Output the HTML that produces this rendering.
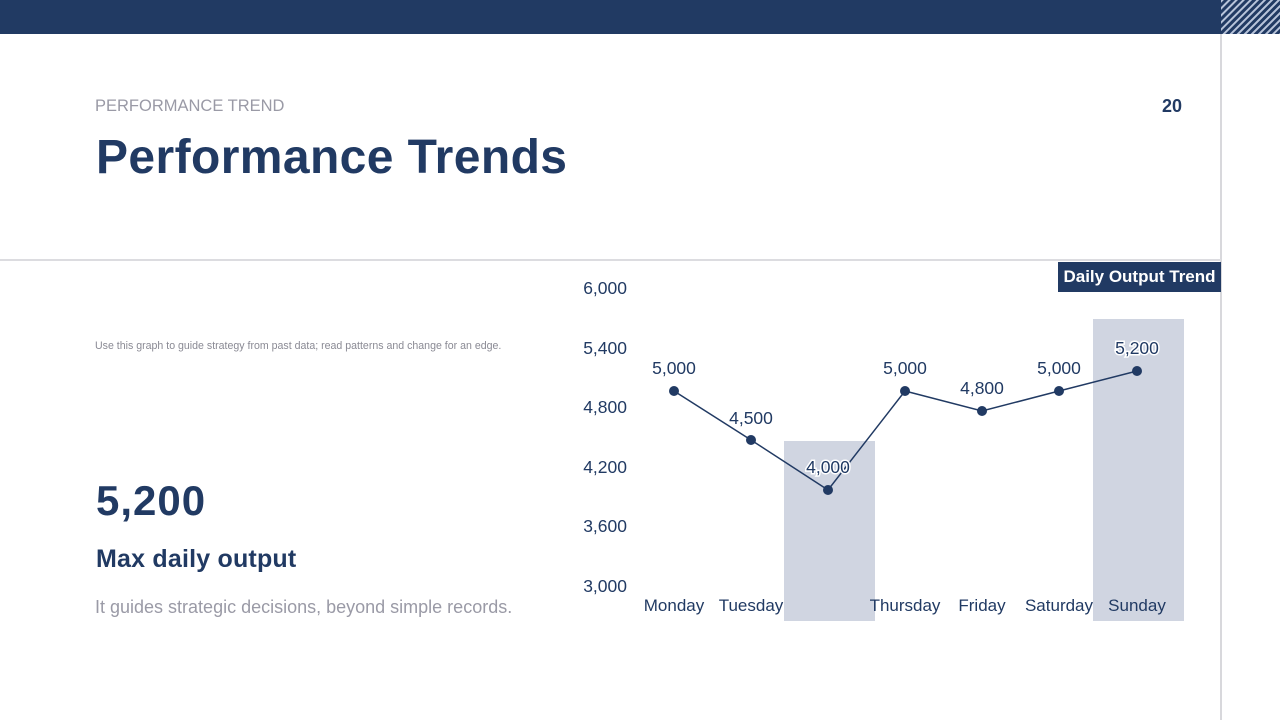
<!DOCTYPE html>
<html><head><style>
body{margin:0;width:1280px;height:720px;background:#fff;font-family:"Liberation Sans",sans-serif;position:relative;overflow:hidden}
.a{position:absolute;white-space:nowrap}
</style></head><body>
<div class="a" style="left:0;top:0;width:1221px;height:34px;background:#213a63"></div>
<svg class="a" style="left:1221px;top:0" width="59" height="34"><defs><pattern id="h" width="5" height="5" patternUnits="userSpaceOnUse" patternTransform="rotate(45)"><rect width="5" height="5" fill="#213a63"/><rect width="2" height="5" fill="#b8c4da"/></pattern></defs><rect width="59" height="34" fill="url(#h)"/></svg>
<div class="a" style="left:1220px;top:34px;width:2px;height:686px;background:#d8d8dc"></div>
<div class="a" style="left:0;top:259px;width:1221px;height:2px;background:#dcdce0"></div>
<div class="a" style="left:95px;top:97px;font-size:16.5px;color:#9a9aa6">PERFORMANCE TREND</div>
<div class="a" style="left:1162px;top:96px;font-size:18px;font-weight:bold;color:#213a63">20</div>
<div class="a" style="left:96px;top:130px;font-size:48px;font-weight:bold;color:#213a63;letter-spacing:0.4px">Performance Trends</div>
<div class="a" style="left:95px;top:340px;font-size:10.6px;color:#8a8a94">Use this graph to guide strategy from past data; read patterns and change for an edge.</div>
<div class="a" style="left:96px;top:477px;font-size:42px;font-weight:bold;color:#213a63;letter-spacing:1px">5,200</div>
<div class="a" style="left:96px;top:545px;font-size:25px;font-weight:bold;color:#213a63;letter-spacing:0.2px">Max daily output</div>
<div class="a" style="left:95px;top:597px;font-size:18px;color:#9a9aa6">It guides strategic decisions, beyond simple records.</div>
<div class="a" style="left:1058px;top:262px;width:163px;height:30px;background:#213a63;color:#fff;font-weight:bold;font-size:17px;line-height:30px;text-align:center">Daily Output Trend</div>
<svg class="a" style="left:0;top:0" width="1280" height="720" font-family="Liberation Sans, sans-serif">
<rect x="784" y="441" width="91" height="180" fill="#d0d5e1"/>
<rect x="1093" y="319" width="91" height="302" fill="#d0d5e1"/>
<g font-size="17.5" fill="#213a63" text-anchor="end">
<text x="627" y="294">6,000</text><text x="627" y="354">5,400</text><text x="627" y="413">4,800</text><text x="627" y="473">4,200</text><text x="627" y="532">3,600</text><text x="627" y="592">3,000</text></g>
<g font-size="17" fill="#213a63" text-anchor="middle">
<text x="674" y="611">Monday</text><text x="751" y="611">Tuesday</text><text x="905" y="611">Thursday</text><text x="982" y="611">Friday</text><text x="1059" y="611">Saturday</text><text x="1137" y="611">Sunday</text></g>
<polyline points="674,391 751,440 828,490 905,391 982,411 1059,391 1137,371" fill="none" stroke="#213a63" stroke-width="1.5"/>
<g fill="#213a63"><circle cx="674" cy="391" r="5"/><circle cx="751" cy="440" r="5"/><circle cx="828" cy="490" r="5"/><circle cx="905" cy="391" r="5"/><circle cx="982" cy="411" r="5"/><circle cx="1059" cy="391" r="5"/><circle cx="1137" cy="371" r="5"/></g>
<g font-size="17.5" fill="#213a63" text-anchor="middle" stroke="#fff" stroke-width="3" paint-order="stroke">
<text x="674" y="374">5,000</text><text x="751" y="424">4,500</text><text x="828" y="473">4,000</text><text x="905" y="374">5,000</text><text x="982" y="394">4,800</text><text x="1059" y="374">5,000</text><text x="1137" y="354">5,200</text></g>
</svg>
</body></html>
